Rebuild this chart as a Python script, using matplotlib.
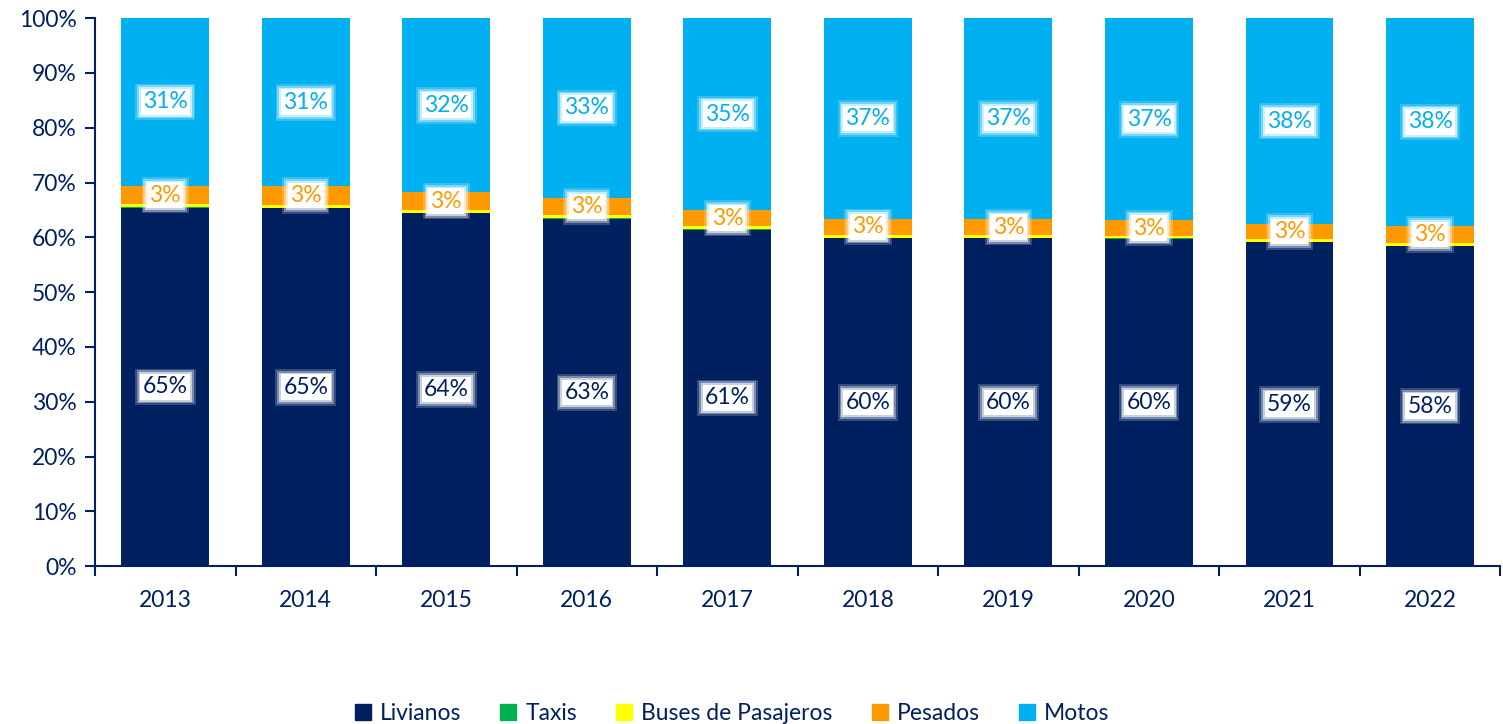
import numpy as np
import matplotlib.pyplot as plt
from matplotlib.patches import Patch

years = ['2013', '2014', '2015', '2016', '2017', '2018', '2019', '2020', '2021', '2022']
livianos = [65.4, 65.3, 64.4, 63.4, 61.4, 59.8, 59.8, 59.7, 59.1, 58.4]
taxis = [0.1, 0.1, 0.1, 0.1, 0.1, 0.1, 0.1, 0.1, 0.1, 0.1]
buses = [0.5, 0.5, 0.5, 0.5, 0.5, 0.5, 0.5, 0.5, 0.5, 0.5]
pesados = [3.4, 3.4, 3.2, 3.2, 3.0, 3.0, 2.9, 2.8, 2.7, 3.1]
motos = [30.6, 30.7, 31.8, 32.8, 35.0, 36.6, 36.7, 36.9, 37.6, 37.9]

series = [('Livianos', livianos, '#002060'),
          ('Taxis', taxis, '#00B050'),
          ('Buses de Pasajeros', buses, '#FFFF00'),
          ('Pesados', pesados, '#FF9900'),
          ('Motos', motos, '#00B0F0')]
labelled = {'Livianos': '#002060', 'Pesados': '#FF9900', 'Motos': '#00B0F0'}

navy = '#002060'
plt.rcParams['font.family'] = ['Lato', 'DejaVu Sans']

fig = plt.figure(figsize=(15.03, 7.24), dpi=100)
ax = fig.add_axes([0.0632, 0.218, 0.935, 0.757])

x = np.arange(len(years))
bottom = np.zeros(len(years))
for name, vals, col in series:
    vals = np.array(vals, dtype=float)
    ax.bar(x, vals, width=0.626, bottom=bottom, color=col, label=name)
    if name in labelled:
        for xi, b, v in zip(x, bottom, vals):
            # soft white glow behind the label, a few layers
            for pad, a in [(0.34, 0.2), (0.26, 0.35), (0.18, 0.6)]:
                ax.text(xi, b + v / 2, f'{v:.0f}%', ha='center', va='center',
                        fontsize=16.5, color='none',
                        bbox=dict(boxstyle=f'square,pad={pad}', fc='white', ec='none', alpha=a))
            ax.text(xi, b + v / 2, f'{v:.0f}%', ha='center', va='center',
                    fontsize=16.5, color=labelled[name],
                    bbox=dict(boxstyle='square,pad=0.1', fc='white', ec='none'))
    bottom += vals

ax.set_xlim(-0.5, len(years) - 0.5)
ax.set_ylim(0, 100)
ax.set_yticks(np.arange(0, 101, 10))
ax.set_yticklabels([f'{v}%' for v in range(0, 101, 10)])
ax.set_xticks(x)
ax.set_xticklabels(years)
ax.set_xticks(np.arange(-0.5, len(years), 1), minor=True)
ax.tick_params(axis='x', which='major', length=0, pad=17, labelsize=16.5, labelcolor=navy)
ax.tick_params(axis='x', which='minor', length=7, width=1.5, color=navy)
ax.tick_params(axis='y', length=7, width=1.5, color=navy, labelsize=16.5, labelcolor=navy, pad=6)
for s in ['top', 'right']:
    ax.spines[s].set_visible(False)
for s in ['left', 'bottom']:
    ax.spines[s].set_color(navy)
    ax.spines[s].set_linewidth(1.5)

handles = [Patch(color=c, label=n) for n, _, c in series]
leg = fig.legend(handles=handles, loc='lower center', bbox_to_anchor=(0.487, -0.028), ncol=5,
                 frameon=False, fontsize=16.5, handlelength=0.7, handleheight=0.7,
                 handletextpad=0.4, columnspacing=1.7)
for t in leg.get_texts():
    t.set_color(navy)

fig.savefig('out.png', dpi=100)
